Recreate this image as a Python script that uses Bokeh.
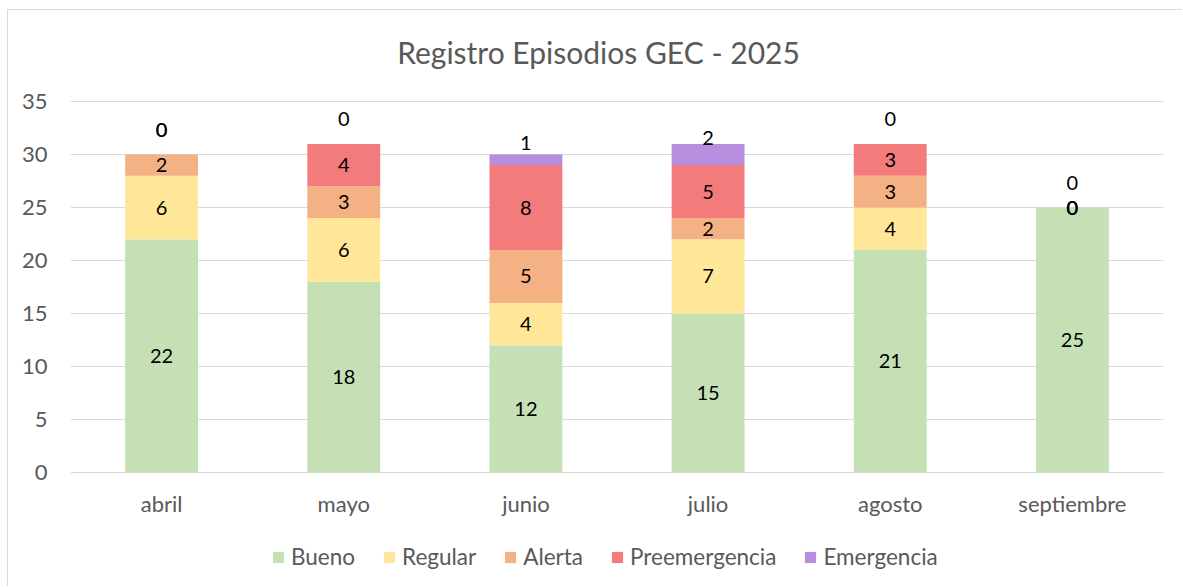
from bokeh.plotting import figure
from bokeh.models import ColumnDataSource, Legend, LegendItem, FixedTicker, Range1d, FactorRange
from bokeh.core.properties import value
from bokeh.embed import file_html
from bokeh.resources import INLINE

months = ["abril", "mayo", "junio", "julio", "agosto", "septiembre"]
series = ["Bueno", "Regular", "Alerta", "Preemergencia", "Emergencia"]
bueno = [22, 18, 12, 15, 21, 25]
regular = [6, 6, 4, 7, 4, 0]
alerta = [2, 3, 5, 2, 3, 0]
preemergencia = [0, 4, 8, 5, 3, 0]
emergencia = [0, 0, 1, 2, 0, 0]
y_ticks = [0, 5, 10, 15, 20, 25, 30, 35]
colors = ["#C5E0B4", "#FFE699", "#F4B183", "#F47B7B", "#B88CDE"]
title_text = "Registro Episodios GEC - 2025"

FONT = "Lato"
GRAY = "#595959"

# layout (pixels on the canvas)
W, H = 1175, 577
FRAME_L, FRAME_R = 62, 1155
TOP_TICK_PX = 91         # canvas y of the top tick
AXIS_PX = 371            # pixels from 0 to the top tick
TITLE_CX, TITLE_CY = 590, 41
px_per_unit = AXIS_PX / y_ticks[-1]
y_top = y_ticks[-1] + TOP_TICK_PX / px_per_unit
y_bottom = y_ticks[-1] - (H - TOP_TICK_PX) / px_per_unit

values = [bueno, regular, alerta, preemergencia, emergencia]
data = {"month": months}
for name, vals in zip(series, values):
    data[name] = vals
src = ColumnDataSource(data)

p = figure(x_range=FactorRange(*months), y_range=Range1d(y_bottom, y_top),
           width=W, height=H, output_backend="svg", toolbar_location=None,
           min_border_left=FRAME_L, min_border_right=W - FRAME_R,
           min_border_top=0, min_border_bottom=0)
p.styles = {"margin-left": "7px", "margin-top": "9px",
            "border-left": "1px solid #d9d9d9", "border-top": "1px solid #d9d9d9"}

renderers = p.vbar_stack(series, x="month", width=0.4, source=src, color=colors, line_width=0)

# data labels
lx, ly, lt, lo = [], [], [], []
for i, m in enumerate(months):
    cum = 0
    last_nonzero_center = None
    total = sum(vv[i] for vv in values)
    for s, vals in enumerate(values):
        v = vals[i]
        center = cum + v / 2
        if s == len(values) - 1:
            if v == 0:
                y, off = total, -25
            else:
                y, off = center, -17
        elif v == 0:
            if last_nonzero_center is not None and abs(center - last_nonzero_center) < 1.5:
                y, off = total, -25
            else:
                y, off = center, 0
        else:
            y, off = center, 0
            last_nonzero_center = center
        lx.append(m); ly.append(y); lt.append(str(v)); lo.append(off)
        cum += v

lsrc = ColumnDataSource(dict(x=lx, y=ly, text=lt, off=lo))
p.text(x="x", y="y", text="text", y_offset="off", source=lsrc, text_align="center",
       text_baseline="middle", text_color="black", text_font=value(FONT), text_font_size="20px")

# month (category) labels under the bars
msrc = ColumnDataSource(dict(x=months, y=[0] * len(months)))
p.text(x="x", y="y", text="x", y_offset=31, source=msrc, text_align="center",
       text_baseline="middle", text_color=GRAY, text_font=value(FONT), text_font_size="22px")

# chart title (drawn inside the extended frame)
cat_w = (FRAME_R - FRAME_L) / len(months)
anchor = months[len(months) // 2 - 1]
anchor_px = FRAME_L + (len(months) // 2 - 0.5) * cat_w
tsrc = ColumnDataSource(dict(x=[anchor], y=[y_ticks[-1]], text=[title_text]))
p.text(x="x", y="y", text="text", source=tsrc, x_offset=TITLE_CX - anchor_px,
       y_offset=TITLE_CY - TOP_TICK_PX, text_align="center", text_baseline="middle",
       text_color=GRAY, text_font=value(FONT), text_font_size="30px")

p.xaxis.visible = False
p.yaxis.ticker = FixedTicker(ticks=y_ticks)
ax = p.yaxis[0]
ax.axis_line_color = None
ax.major_tick_line_color = None
ax.minor_tick_line_color = None
ax.major_label_text_color = GRAY
ax.major_label_text_font = FONT
ax.major_label_text_font_size = "22px"
ax.major_label_standoff = 17
p.xgrid.grid_line_color = None
p.ygrid.grid_line_color = "#D9D9D9"
p.ygrid.grid_line_width = 1
p.outline_line_color = None

legend = Legend(items=[LegendItem(label=n, renderers=[r]) for n, r in zip(series, renderers)],
                orientation="horizontal", location=(201, 17), border_line_color=None,
                background_fill_alpha=0,
                label_text_font=FONT, label_text_font_size="22.5px", label_text_color=GRAY,
                glyph_width=14, glyph_height=14, label_standoff=6, spacing=27, margin=0, padding=4)
p.add_layout(legend, "center")

open("out.html", "w").write(file_html(p, INLINE))
